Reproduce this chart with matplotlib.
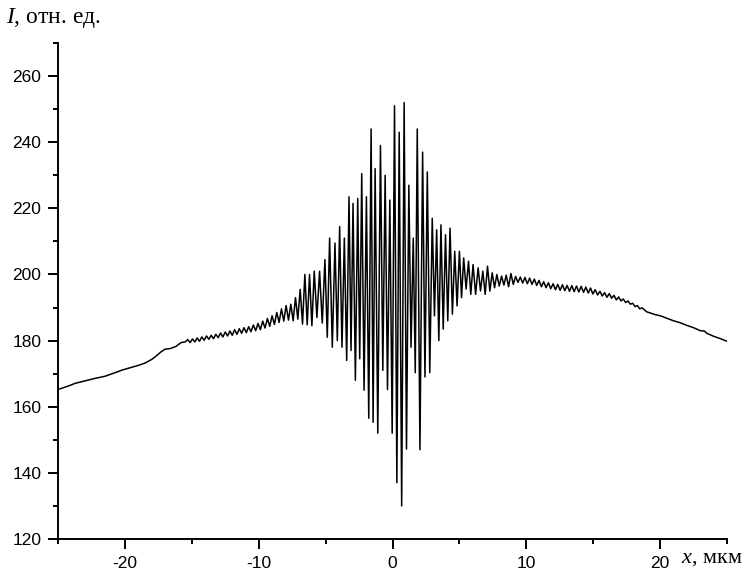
import numpy as np
import matplotlib
matplotlib.use("Agg")
import matplotlib.pyplot as plt
from matplotlib.ticker import MultipleLocator

plt.rcParams['mathtext.fontset'] = 'custom'
plt.rcParams['mathtext.rm'] = 'Liberation Serif'
plt.rcParams['mathtext.it'] = 'Liberation Serif:italic'
plt.rcParams['axes.unicode_minus'] = False

# smooth left tail (x in um, I in rel. units)
tail_l_x = [-25.0, -24.2, -23.7, -23.0, -22.2, -21.5, -20.8, -20.2, -19.6, -19.0,
            -18.5, -18.0, -17.7, -17.3, -17.0, -16.6, -16.2, -15.8, -15.5]
tail_l_y = [165.2, 166.3, 167.1, 167.8, 168.6, 169.2, 170.2, 171.1, 171.8, 172.5,
            173.2, 174.3, 175.2, 176.6, 177.4, 177.6, 178.2, 179.4, 179.6]

# fringe maxima positions and values
peak_x = [-15.3, -14.95, -14.6, -14.25, -13.9, -13.55, -13.2, -12.85, -12.5, -12.15,
          -11.8, -11.45, -11.1, -10.75, -10.4, -10.05, -9.7, -9.35, -9.0, -8.65,
          -8.3, -7.95,
          -7.6, -7.25, -6.9, -6.55, -6.2, -5.85, -5.45, -5.05, -4.7, -4.3,
          -3.95, -3.6, -3.25, -2.95, -2.6, -2.3, -1.95, -1.6, -1.3, -0.9,
          -0.55, -0.2, 0.15, 0.5, 0.87, 1.22, 1.55, 1.85, 2.25, 2.6,
          2.97, 3.3, 3.62, 3.96, 4.3, 4.65, 5.0, 5.32, 5.68, 6.02,
          6.4, 6.75, 7.1, 7.45, 7.8, 8.15, 8.5, 8.85,
          9.2, 9.55, 9.9, 10.25, 10.6, 10.95, 11.3, 11.65, 12.0, 12.35,
          12.7, 13.05, 13.4, 13.75, 14.1, 14.45, 14.8, 15.15, 15.5, 15.85,
          16.2, 16.55, 16.9, 17.25, 17.6, 17.95, 18.3, 18.65]
peak_y = [180.3, 180.5, 180.8, 181.1, 181.4, 181.6, 181.9, 182.3, 182.6, 182.9,
          183.3, 183.6, 183.9, 184.2, 184.7, 185.2, 185.9, 186.7, 187.5, 188.5,
          189.6, 190.6,
          191.0, 193.0, 195.5, 200.0, 200.0, 201.0, 201.0, 204.5, 211.0, 209.5,
          214.5, 211.0, 223.5, 221.5, 223.0, 230.5, 223.5, 244.0, 232.0, 239.0,
          230.0, 222.5, 251.0, 243.0, 252.0, 227.0, 211.0, 244.0, 237.0, 231.0,
          217.0, 213.5, 215.0, 212.0, 214.0, 207.0, 207.0, 205.0, 204.0, 203.0,
          202.0, 201.0, 202.5, 200.5, 200.0, 199.5, 199.8, 200.3,
          199.4, 199.2, 199.1, 198.9, 198.6, 198.2, 197.8, 197.5, 197.2, 197.0,
          196.9, 196.7, 196.6, 196.5, 196.4, 196.2, 195.9, 195.4, 194.9, 194.5,
          194.2, 193.7, 193.2, 192.6, 192.0, 191.3, 190.6, 189.9]
# fringe minima, one after each maximum (except the last)
trough_y = [179.4, 179.6, 179.8, 180.1, 180.4, 180.6, 180.9, 181.1, 181.4, 181.6,
            181.9, 182.2, 182.4, 182.7, 183.0, 183.3, 183.8, 184.3, 184.9, 185.5,
            185.9, 186.2,
            186.0, 186.5, 185.0, 184.8, 184.5, 187.0, 185.3, 181.0, 178.0, 180.0,
            178.0, 174.0, 177.0, 168.0, 174.5, 165.0, 156.5, 155.3, 152.0, 171.0,
            165.2, 152.0, 137.0, 130.0, 147.2, 178.0, 170.3, 147.0, 169.0, 170.3,
            187.5, 180.0, 183.5, 186.0, 188.0, 190.5, 193.0, 195.6, 194.0, 194.0,
            195.0, 194.0, 195.0, 196.0, 196.5, 196.8, 196.3, 197.0,
            197.6, 197.4, 197.2, 197.0, 196.7, 196.3, 196.0, 195.7, 195.4, 195.2,
            195.1, 194.9, 194.8, 194.7, 194.6, 194.4, 194.1, 193.8, 193.5, 193.1,
            192.8, 192.3, 192.0, 191.5, 191.0, 190.3, 189.6]

# smooth right tail
tail_r_x = [19.0, 19.6, 20.1, 20.6, 21.0, 21.5, 22.0, 22.5, 23.0, 23.3, 23.5, 24.0, 24.5, 25.0]
tail_r_y = [188.7, 187.9, 187.4, 186.6, 186.0, 185.4, 184.6, 183.9, 183.0, 182.9, 182.2, 181.3, 180.6, 179.8]

# stitch maxima and minima into one trace
fx, fy = [], []
for i in range(len(peak_x)):
    fx.append(peak_x[i])
    fy.append(peak_y[i])
    if i < len(trough_y):
        fx.append((peak_x[i] + peak_x[i + 1]) / 2)
        fy.append(trough_y[i])

x = np.concatenate([tail_l_x, fx, tail_r_x])
y = np.concatenate([tail_l_y, fy, tail_r_y])

fig = plt.figure(figsize=(7.52, 5.72), dpi=100)
ax = fig.add_axes([0.0771, 0.0577, 0.8897, 0.8671])
ax.plot(x, y, color='black', lw=1.1)

ax.set_xlim(-25, 25)
ax.set_ylim(120, 270)
ax.xaxis.set_major_locator(MultipleLocator(10))
ax.xaxis.set_minor_locator(MultipleLocator(5))
ax.yaxis.set_major_locator(MultipleLocator(20))
ax.yaxis.set_minor_locator(MultipleLocator(10))

for s in ['top', 'right']:
    ax.spines[s].set_visible(False)
for s in ['left', 'bottom']:
    ax.spines[s].set_linewidth(1.4)

ax.tick_params(which='major', direction='out', length=7, width=1.4, labelsize=12.5, pad=5)
ax.tick_params(which='minor', direction='out', length=3.6, width=1.4)
for lab in ax.get_xticklabels() + ax.get_yticklabels():
    lab.set_family('Liberation Sans')

fig.text(0.008, 0.968, r'$\mathit{I}$, отн. ед.', fontsize=17, family='Liberation Serif',
         ha='left', va='center')
fig.text(0.906, 0.016, r'$\mathit{x}$, мкм', fontsize=16, family='Liberation Serif',
         ha='left', va='baseline')

fig.savefig('out.png', dpi=100)
